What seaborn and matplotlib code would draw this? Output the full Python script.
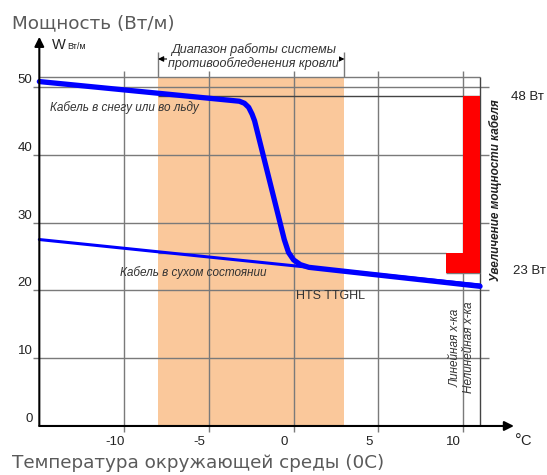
# Мощность греющего кабеля в зависимости от температуры окружающей среды
import matplotlib
matplotlib.use("Agg")
import matplotlib.pyplot as plt
import seaborn as sns

# --- data --------------------------------------------------------------------
temp_ticks = [-10, -5, 0, 5, 10]
power_ticks = [0, 10, 20, 30, 40, 50]

# нелинейная характеристика (HTS TTGHL)
nonlinear_t = [-15, -3.2, -2.9, -2.65, -2.45, -2.3, -0.55, -0.3, 0.0, 0.4, 0.9, 11]
nonlinear_w = [50.8, 47.9, 47.6, 47.0, 46.0, 45.0, 27.5, 25.6, 24.5, 23.8, 23.4, 20.6]

# линейная характеристика (кабель в сухом состоянии)
linear_t = [-15, 11]
linear_w = [27.5, 20.8]

# диапазон работы системы
zone_t = [-8, 3]

# увеличение мощности кабеля
bar_left = [9, 10]
bar_bottom = [22.6, 22.6]
bar_top = [25.5, 48.6]
level_labels = ["48 Вт", "23 Вт"]

# --- figure ------------------------------------------------------------------
sns.set_style("white")
plt.rcParams["font.family"] = ["Liberation Sans", "DejaVu Sans"]

fig = plt.figure(figsize=(5.47, 4.75), dpi=100)
ax = fig.add_axes([0, 0, 1, 1])
ax.set_xlim(-17.32, 14.95)
ax.set_ylim(-7.23, 62.83)
ax.axis("off")

grid_c = "#7a7a7a"
text_c = "#333333"
blue = "#0000ff"

# orange zone
ax.fill_between(zone_t, 0, 51.5, color="#fac89b", lw=0, zorder=0)

# grid
ax.hlines(power_ticks[1:], -15.4, 11.5, color=grid_c, lw=1, zorder=1)
ax.vlines(temp_ticks, -0.9, 52.4, color=grid_c, lw=1, zorder=1)
ax.hlines(51.5, -15, 11, color=grid_c, lw=1, zorder=1)
ax.vlines(11, 0, 51.5, color="#444444", lw=1, zorder=1)
ax.vlines(zone_t, 51.5, 55.1, color=grid_c, lw=1, zorder=1)
ax.hlines(bar_top[1], zone_t[0], bar_left[1] + 1, color="#444444", lw=1, zorder=1)
ax.hlines(bar_top[0], zone_t[0], bar_left[0], color=grid_c, lw=1, zorder=1)
ax.hlines(bar_bottom[0], bar_left[0], bar_left[1] + 1, color=grid_c, lw=1, zorder=1)

# red bars
ax.bar(bar_left, [t - b for t, b in zip(bar_top, bar_bottom)], bottom=bar_bottom,
       width=1, align="edge", color="#ff0000", lw=0, zorder=2)

# curves
sns.lineplot(x=linear_t, y=linear_w, color=blue, lw=2.2, sort=False,
             estimator=None, ax=ax, zorder=3)
sns.lineplot(x=nonlinear_t, y=nonlinear_w, color=blue, lw=3.8, sort=False,
             estimator=None, ax=ax, zorder=4, solid_joinstyle="round",
             solid_capstyle="round")

# axes with arrows
ax.annotate("", xy=(-15, 57.4), xytext=(-15, 0),
            arrowprops=dict(arrowstyle="-|>", color="black", lw=1.5,
                            mutation_scale=14, shrinkA=0, shrinkB=0), zorder=5)
ax.annotate("", xy=(13.0, 0), xytext=(-15, 0),
            arrowprops=dict(arrowstyle="-|>", color="black", lw=1.5,
                            mutation_scale=14, shrinkA=0, shrinkB=0), zorder=5)

# tick labels
for v in power_ticks:
    ax.text(-15.4, v + 0.15, str(v), ha="right", va="bottom", fontsize=9.5, color="#222222")
for t in temp_ticks:
    ax.text(t - 0.55, -2.36, str(t), ha="center", va="center", fontsize=9.5, color="#222222")
ax.text(13.05, -2.3, "°", ha="left", va="center", fontsize=12, color="#222222")
ax.text(13.4, -2.2, "C", ha="left", va="center", fontsize=10.5, color="#222222")

# axis captions
ax.text(-14.25, 55.6, "W", ha="left", va="baseline", fontsize=10.5, color="#222222")
ax.text(-13.36, 55.6, "Вт/м", ha="left", va="baseline", fontsize=6.5, color="#222222")
fig.text(12 / 547, 1 - 23 / 475, "Мощность (Вт/м)", ha="left", va="center",
         fontsize=13.2, color="#5a5a5a", family="DejaVu Sans")
fig.text(12 / 547, 1 - 463 / 475, "Температура окружающей среды (0С)", ha="left",
         va="center", fontsize=13.2, color="#5a5a5a", family="DejaVu Sans")

# zone annotation
ax.annotate("", xy=(zone_t[0], 54.13), xytext=(zone_t[1], 54.13),
            arrowprops=dict(arrowstyle="<|-|>", color="black", lw=0.8,
                            mutation_scale=8, shrinkA=0, shrinkB=0), zorder=2)
ax.text(-2.38, 55.5, "Диапазон работы системы", ha="center", va="center",
        fontsize=9, style="italic", color=text_c, zorder=3)
ax.text(-2.38, 53.5, "противообледенения кровли", ha="center", va="center",
        fontsize=9, style="italic", color=text_c, zorder=3,
        bbox=dict(facecolor="white", edgecolor="none", pad=0.3))

# curve labels
ax.text(-14.37, 46.9, "Кабель в снегу или во льду", ha="left", va="center",
        fontsize=8.5, style="italic", color=text_c, zorder=5)
ax.text(-10.23, 22.57, "Кабель в сухом состоянии", ha="left", va="center",
        fontsize=8.5, style="italic", color=text_c, zorder=5)
ax.text(0.16, 19.17, "HTS TTGHL", ha="left", va="center", fontsize=9, color=text_c)

# bar labels
ax.text(12.85, 48.5, level_labels[0], ha="left", va="center", fontsize=9.5, color="#222222")
ax.text(12.97, 22.86, level_labels[1], ha="left", va="center", fontsize=9.5, color="#222222")
ax.text(11.91, 34.8, "Увеличение мощности кабеля", ha="center", va="center",
        rotation=90, fontsize=8.5, style="italic", weight="bold", color="#222222")
ax.text(9.55, 5.75, "Линейная х-ка", ha="center", va="bottom", rotation=90,
        fontsize=8.5, style="italic", color=text_c)
ax.text(10.37, 4.87, "Нелинейная х-ка", ha="center", va="bottom", rotation=90,
        fontsize=8.5, style="italic", color=text_c)

fig.savefig("out.png", dpi=100)
